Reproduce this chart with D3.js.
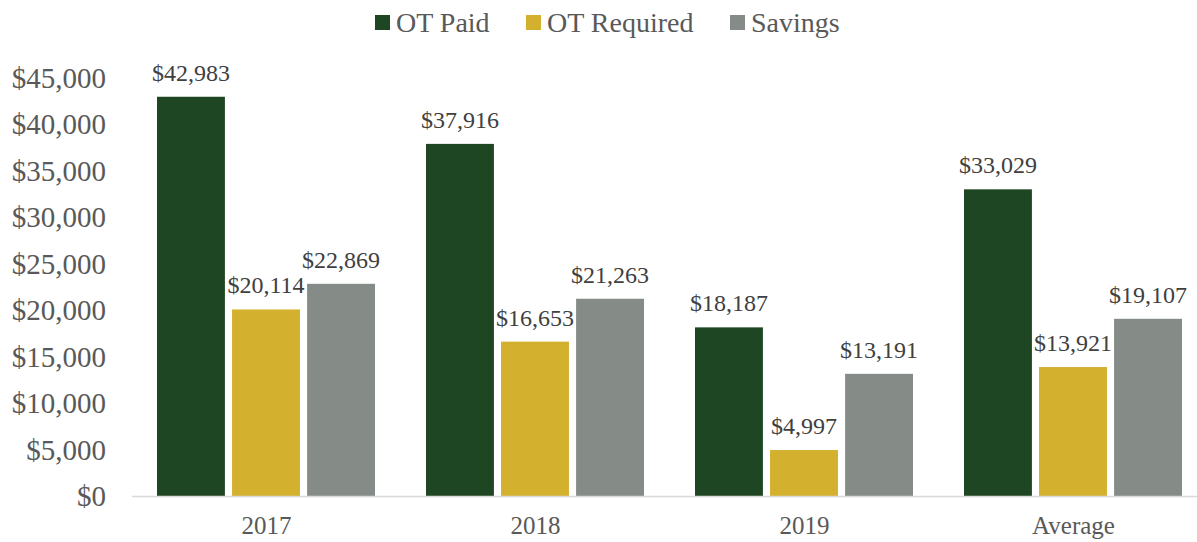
<!DOCTYPE html>
<html lang="en">
<head>
    <meta charset="UTF-8">
    <title>OT Paid vs OT Required</title>
    <script src="https://d3js.org/d3.v7.min.js"></script>
    <style>
        body { margin: 0; background: #fff; }
        svg { font-family: "Liberation Serif", "Times New Roman", serif; }
    </style>
</head>
<body>
    <div id="chart"></div>
    <script>
        const categories = ["2017", "2018", "2019", "Average"];
        const series = ["OT Paid", "OT Required", "Savings"];
        const otPaid = [42983, 37916, 18187, 33029];
        const otRequired = [20114, 16653, 4997, 13921];
        const savings = [22869, 21263, 13191, 19107];
        const yTicks = [0, 5000, 10000, 15000, 20000, 25000, 30000, 35000, 40000, 45000];
        const colors = ["#1f4623", "#d4b02f", "#858c88"];

        const values = [otPaid, otRequired, savings];
        const data = [];
        categories.forEach((c, i) => {
            series.forEach((s, j) => data.push({ cat: c, series: s, value: values[j][i], color: colors[j] }));
        });

        const W = 1197, H = 542;
        const svg = d3.select("#chart").append("svg").attr("width", W).attr("height", H);

        const x = d3.scaleBand().domain(categories).range([132, 1208]);
        const inner = d3.scaleBand().domain(series).range([25, x.bandwidth() - 26]).paddingInner(0.095);
        const y = d3.scaleLinear().domain([0, 45000]).range([496.5, 78]);

        const fmt = d3.format("$,");

        // y axis labels
        const yAxis = svg.append("g")
            .attr("transform", "translate(106,0)")
            .call(d3.axisLeft(y).tickValues(yTicks).tickFormat(fmt).tickSize(0).tickPadding(0))
            .attr("font-family", null)
            .attr("font-size", null);
        yAxis.select(".domain").remove();
        yAxis.selectAll("text")
            .style("font-size", "29px")
            .attr("fill", "#595959");

        // bars
        svg.append("g").selectAll("rect")
            .data(data)
            .join("rect")
            .attr("x", d => x(d.cat) + inner(d.series))
            .attr("y", d => y(d.value))
            .attr("width", inner.bandwidth())
            .attr("height", d => y(0) - y(d.value))
            .attr("fill", d => d.color);

        // baseline
        svg.append("line")
            .attr("x1", 132).attr("x2", W)
            .attr("y1", y(0)).attr("y2", y(0))
            .attr("stroke", "#d9d9d9").attr("stroke-width", 1.5);

        // value labels
        svg.append("g").selectAll("text")
            .data(data)
            .join("text")
            .attr("x", d => x(d.cat) + inner(d.series) + inner.bandwidth() / 2)
            .attr("y", d => y(d.value) - 16)
            .attr("text-anchor", "middle")
            .attr("fill", "#404040")
            .style("font-size", "24px")
            .text(d => fmt(d.value));

        // x axis labels
        const xAxis = svg.append("g")
            .attr("transform", `translate(0,${y(0)})`)
            .call(d3.axisBottom(x).tickSize(0).tickPadding(20))
            .attr("font-family", null)
            .attr("font-size", null);
        xAxis.select(".domain").remove();
        xAxis.selectAll("text")
            .style("font-size", "25px")
            .attr("fill", "#595959");

        // legend
        const legendX = [375, 526, 730];
        const legend = svg.append("g").selectAll("g")
            .data(series)
            .join("g")
            .attr("transform", (d, i) => `translate(${legendX[i]},15)`);
        legend.append("rect")
            .attr("width", 15).attr("height", 15)
            .attr("fill", (d, i) => colors[i]);
        legend.append("text")
            .attr("x", 21).attr("y", 17)
            .style("font-size", "28px")
            .attr("fill", "#595959")
            .text(d => d);
    </script>
</body>
</html>
